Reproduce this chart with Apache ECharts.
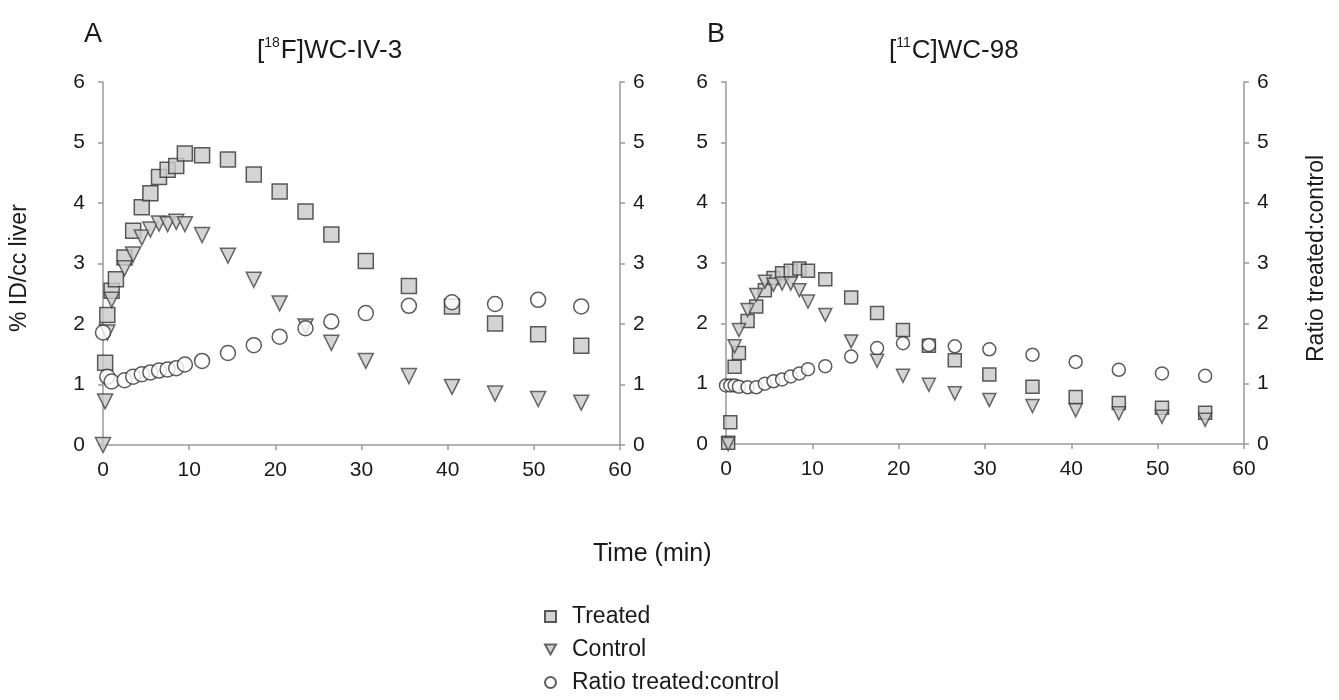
<!DOCTYPE html>
<html>
<head>
<meta charset="utf-8">
<style>
  html, body { margin: 0; padding: 0; background: #fff; }
  #main { width: 1339px; height: 700px; }
</style>
<script src="https://cdn.jsdelivr.net/npm/echarts@6/dist/echarts.min.js"></script>
</head>
<body>
<div id="main"></div>
<script>
'use strict';

// time points (min)
var timesA = [0, 0.25, 0.5, 1, 1.5, 2.5, 3.5, 4.5, 5.5, 6.5, 7.5, 8.5, 9.5, 11.5, 14.5, 17.5, 20.5, 23.5, 26.5, 30.5, 35.5, 40.5, 45.5, 50.5, 55.5];
var timesB = [0, 0.25, 0.5, 1, 1.5, 2.5, 3.5, 4.5, 5.5, 6.5, 7.5, 8.5, 9.5, 11.5, 14.5, 17.5, 20.5, 23.5, 26.5, 30.5, 35.5, 40.5, 45.5, 50.5, 55.5];

// A: [18F]WC-IV-3
var treatedA = [null, 1.36, 2.15, 2.55, 2.74, 3.10, 3.54, 3.93, 4.16, 4.43, 4.55, 4.61, 4.82, 4.79, 4.72, 4.47, 4.19, 3.86, 3.48, 3.04, 2.63, 2.29, 2.01, 1.83, 1.64];
var controlA = [0, 0.72, 1.86, 2.40, null, 2.92, 3.15, 3.43, 3.56, 3.66, 3.65, 3.69, 3.65, 3.47, 3.13, 2.73, 2.34, 1.96, 1.69, 1.39, 1.14, 0.96, 0.85, 0.76, 0.70];
var ratioA = [1.86, null, 1.13, 1.05, null, 1.07, 1.13, 1.17, 1.20, 1.23, 1.25, 1.27, 1.33, 1.39, 1.52, 1.65, 1.79, 1.93, 2.04, 2.18, 2.30, 2.36, 2.33, 2.40, 2.29];

// B: [11C]WC-98
var treatedB = [null, 0.02, 0.36, 1.28, 1.51, 2.04, 2.28, 2.55, 2.75, 2.83, 2.87, 2.91, 2.87, 2.73, 2.43, 2.17, 1.89, 1.63, 1.39, 1.15, 0.95, 0.78, 0.68, 0.60, 0.52];
var controlB = [null, 0, null, 1.62, 1.89, 2.22, 2.47, 2.69, 2.64, 2.66, 2.66, 2.55, 2.36, 2.14, 1.70, 1.38, 1.13, 0.98, 0.84, 0.73, 0.63, 0.56, 0.51, 0.45, 0.40];
var ratioB = [0.97, null, 0.97, 0.97, 0.95, 0.94, 0.94, 1.00, 1.04, 1.07, 1.12, 1.17, 1.24, 1.29, 1.45, 1.59, 1.67, 1.64, 1.62, 1.57, 1.48, 1.36, 1.23, 1.17, 1.13];

var xTicks = [0, 10, 20, 30, 40, 50, 60];
var yTicks = [0, 1, 2, 3, 4, 5, 6];
var legendNames = ['Treated', 'Control', 'Ratio treated:control'];

var FONT = 'Liberation Sans, Arial, sans-serif';
var TXT = '#1a1a1a';
var DOWN_TRI = 'path://M0,0 L10,0 L5,9 Z';

function pairs(times, vals) {
    var out = [];
    for (var i = 0; i < times.length; i++) {
        if (vals[i] != null) out.push([times[i], vals[i]]);
    }
    return out;
}

var axisLine = {lineStyle: {color: '#9a9a9a', width: 1.5}};
var axisTick = {show: true, length: 5, lineStyle: {color: '#9a9a9a', width: 1.5}};

function xAxisFor(grid) {
    return {
        type: 'value', gridIndex: grid, min: xTicks[0], max: xTicks[xTicks.length - 1], interval: 10,
        axisLine: axisLine, axisTick: axisTick, splitLine: {show: false},
        axisLabel: {fontSize: 21, color: TXT, fontFamily: FONT, margin: 15}
    };
}
function yAxisFor(grid, pos) {
    return {
        type: 'value', gridIndex: grid, position: pos, min: yTicks[0], max: yTicks[yTicks.length - 1], interval: 1,
        axisLine: {show: true, lineStyle: axisLine.lineStyle}, axisTick: axisTick, splitLine: {show: false},
        axisLabel: {fontSize: 21, color: TXT, fontFamily: FONT, margin: pos === 'left' ? 18 : 13}
    };
}

var styles = {
    treated: {symbol: 'rect', itemStyle: {color: '#c9c9c9', borderColor: '#333', borderWidth: 1.5}},
    control: {symbol: DOWN_TRI, itemStyle: {color: '#c9c9c9', borderColor: '#444', borderWidth: 1.5}},
    ratio: {symbol: 'circle', itemStyle: {color: '#ffffff', borderColor: '#333', borderWidth: 1.5}}
};

function scatter(name, key, xi, yi, data, size) {
    var s = styles[key];
    return {
        name: name, type: 'scatter', xAxisIndex: xi, yAxisIndex: yi,
        symbol: s.symbol, symbolSize: size,
        itemStyle: s.itemStyle, data: data, silent: true
    };
}

// one legend per row so they stack exactly
var legendIcons = ['rect', DOWN_TRI, 'circle'];
var legends = legendNames.map(function (name, i) {
    return {
        orient: 'vertical', left: 544, top: 605 + i * 33, padding: 0,
        itemWidth: 11, itemHeight: 11, selectedMode: false,
        data: [{name: name, icon: legendIcons[i]}],
        textStyle: {fontSize: 23, color: TXT, fontFamily: FONT, padding: [0, 0, 0, 11]}
    };
});

var chart = echarts.init(document.getElementById('main'));

var titleRich = {
    sup: {fontSize: 14, color: TXT, fontFamily: FONT, fontWeight: 'normal', verticalAlign: 'top', lineHeight: 15, padding: [0, 1, 0, 0]},
    n: {fontSize: 26, color: TXT, fontFamily: FONT, fontWeight: 'normal', lineHeight: 30}
};

chart.setOption({
    backgroundColor: '#fff',
    animation: false,
    title: [
        {text: 'A', left: 79, top: 16, textStyle: {fontSize: 27, fontWeight: 'normal', color: TXT, fontFamily: FONT}},
        {text: 'B', left: 702, top: 16, textStyle: {fontSize: 27, fontWeight: 'normal', color: TXT, fontFamily: FONT}},
        {text: '{n|[}{sup|18}{n|F]WC-IV-3}', left: 252, top: 31, textStyle: {fontWeight: 'normal', rich: titleRich}},
        {text: '{n|[}{sup|11}{n|C]WC-98}', left: 884, top: 31, textStyle: {fontWeight: 'normal', rich: titleRich}}
    ],
    legend: legends,
    grid: [
        {left: 103, top: 82, width: 517, height: 363},
        {left: 726, top: 82, width: 518, height: 362}
    ],
    xAxis: [xAxisFor(0), xAxisFor(1)],
    yAxis: [yAxisFor(0, 'left'), yAxisFor(0, 'right'), yAxisFor(1, 'left'), yAxisFor(1, 'right')],
    graphic: [
        {type: 'text', x: 8, y: 332, rotation: Math.PI / 2,
            style: {text: '% ID/cc liver', fontSize: 23, fill: TXT, fontFamily: FONT}},
        {type: 'text', x: 1305, y: 362, rotation: Math.PI / 2,
            style: {text: 'Ratio treated:control', fontSize: 23, fill: TXT, fontFamily: FONT}},
        {type: 'text', x: 593, y: 542,
            style: {text: 'Time (min)', fontSize: 25, fill: TXT, fontFamily: FONT}}
    ],
    series: [
        scatter('Treated', 'treated', 0, 0, pairs(timesA, treatedA), 15),
        scatter('Control', 'control', 0, 0, pairs(timesA, controlA), 15),
        scatter('Ratio treated:control', 'ratio', 0, 1, pairs(timesA, ratioA), 15),
        scatter('Treated', 'treated', 1, 2, pairs(timesB, treatedB), 13),
        scatter('Control', 'control', 1, 2, pairs(timesB, controlB), 13),
        scatter('Ratio treated:control', 'ratio', 1, 3, pairs(timesB, ratioB), 13)
    ]
});
</script>
</body>
</html>
